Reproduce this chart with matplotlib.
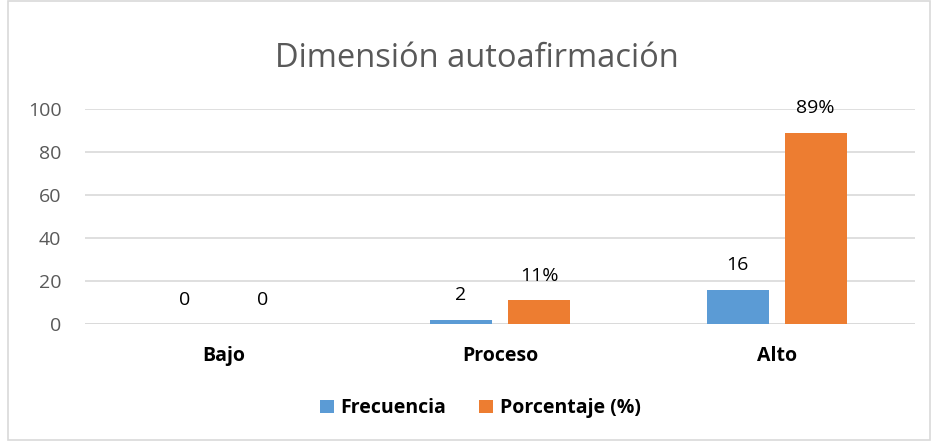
import matplotlib.pyplot as plt
import numpy as np
from matplotlib.patches import Rectangle

plt.rcParams['font.family'] = ['Open Sans', 'DejaVu Sans']

categories = ['Bajo', 'Proceso', 'Alto']
frecuencia = [0, 2, 16]
porcentaje = [0, 11, 89]
frec_labels = ['0', '2', '16']
porc_labels = ['0', '11%', '89%']

blue = '#5b9bd5'
orange = '#ed7d31'
grid = '#d9d9d9'
grey_text = '#595959'

fig = plt.figure(figsize=(9.31, 4.41), dpi=100)
ax = fig.add_axes([0.0913, 0.2653, 0.8915, 0.4875])

x = np.arange(len(categories))
w = 0.224
off = 0.141
b1 = ax.bar(x - off, frecuencia, w, color=blue, label='Frecuencia', zorder=3)
b2 = ax.bar(x + off, porcentaje, w, color=orange, label='Porcentaje (%)', zorder=3)

for rect, lab in zip(b1, frec_labels):
    ax.annotate(lab, (rect.get_x() + rect.get_width() / 2, rect.get_height()),
                xytext=(0, 11), textcoords='offset points', ha='center', va='bottom',
                fontsize=14, color='black')
for rect, lab in zip(b2, porc_labels):
    ax.annotate(lab, (rect.get_x() + rect.get_width() / 2, rect.get_height()),
                xytext=(0, 11), textcoords='offset points', ha='center', va='bottom',
                fontsize=14, color='black')

ax.set_xlim(-0.5, 2.5)
ax.set_ylim(0, 100)
ax.set_yticks(range(0, 101, 20))
ax.yaxis.grid(True, color=grid, linewidth=1.2, zorder=0)
for s in ax.spines.values():
    s.set_visible(False)
ax.axhline(0, color=grid, linewidth=1.2, zorder=1)
ax.tick_params(axis='y', length=0, pad=17, labelsize=14, labelcolor=grey_text)
ax.tick_params(axis='x', length=0, pad=16, labelsize=14)
ax.set_xticks(x)
ax.set_xticklabels(categories, fontweight='bold', color='black')

fig.suptitle('Dimensión autoafirmación', x=0.512, y=0.905, fontsize=23.5, color=grey_text)

leg = fig.legend(loc='center', bbox_to_anchor=(0.516, 0.074), ncol=2, frameon=False,
                 prop={'weight': 'bold', 'size': 14}, handlelength=0.7, handleheight=0.7,
                 handletextpad=0.35, columnspacing=1.7)

fig.patches.append(Rectangle((0.009, 0.002), 0.99, 0.996, transform=fig.transFigure,
                             fill=False, edgecolor=grid, linewidth=1.2))

fig.savefig('out.png', dpi=100)
